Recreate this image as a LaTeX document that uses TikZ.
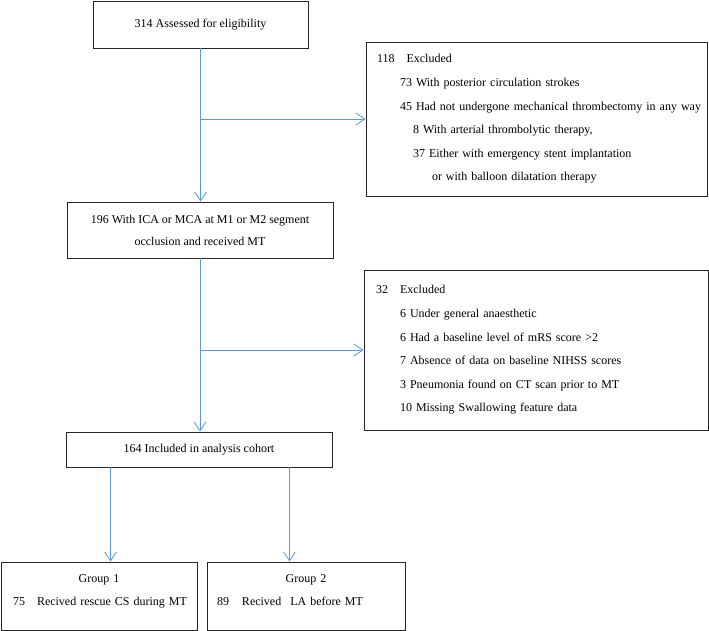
\documentclass[tikz,border=0pt]{standalone}
\usepackage{fontspec}
\setmainfont{Liberation Serif}
\usetikzlibrary{arrows.meta}
\definecolor{flowblue}{RGB}{91,155,213}

\begin{document}
\begin{tikzpicture}[
        x=1pt, y=-1pt, % one unit = one pixel of the layout, y grows downwards
        box/.style = {draw=black!85, line width=0.9pt, inner sep=0pt, font=\fontsize{12}{23.6}\selectfont}, % plain boxes
        excl/.style = {box, align=left, inner xsep=11pt}, % exclusion lists
        grp/.style = {box, align=left, inner xsep=12pt, minimum width=196pt, minimum height=68pt, font=\fontsize{12}{23}\selectfont},
        link/.style = {draw=flowblue, line width=0.8pt, -{Straight Barb[length=9pt, width=12pt]}},
    ]
    \useasboundingbox (0,0) rectangle (709,631);

    \node[box, minimum width=215pt, minimum height=47pt] (assess) at (200.5,24.5) {314 Assessed for eligibility};
    \node[box, align=center, minimum width=266pt, minimum height=56pt, font=\fontsize{12}{22}\selectfont] (icamca) at (200,230)
        {196 With ICA or MCA at M1 or M2 segment\\ occlusion and received MT};
    \node[box, minimum width=266pt, minimum height=35pt] (cohort) at (199,449.5) {164 Included in analysis cohort};

    \node[excl, text width=319pt, minimum height=154pt] (excl1) at (536.5,119) {118\hspace{12pt}Excluded\\
        \hspace*{23pt}\mbox{73 With posterior circulation strokes}\\
        \hspace*{23pt}\mbox{45 Had not undergone mechanical thrombectomy in any way}\\
        \hspace*{36pt}\mbox{8 With arterial thrombolytic therapy,}\\
        \hspace*{36pt}\mbox{37 Either with emergency stent implantation}\\
        \hspace*{55pt}\mbox{or with balloon dilatation therapy}};
    \node[excl, inner xsep=12pt, text width=320pt, minimum height=160pt] (excl2) at (536,350) {32\hspace{12pt}Excluded\\
        \hspace*{24pt}6 Under general anaesthetic\\
        \hspace*{24pt}6 Had a baseline level of mRS score >2\\
        \hspace*{24pt}7 Absence of data on baseline NIHSS scores\\
        \hspace*{24pt}3 Pneumonia found on CT scan prior to MT\\
        \hspace*{24pt}10 Missing Swallowing feature data};

    \node[grp, text width=172pt] (grp1) at (99,596)
        {\makebox[172pt]{Group 1}\\ \mbox{75\hspace{12pt}Recived rescue CS during MT}\rule[-12pt]{0pt}{12pt}};
    \node[grp, inner xsep=10pt, text width=178pt, minimum width=198pt] (grp2) at (306,596)
        {\makebox[178pt]{Group 2}\\ \mbox{89\hspace{13pt}Recived\hspace{9pt}LA before MT}\rule[-12pt]{0pt}{12pt}};

    % flow
    \coordinate (j1) at (assess.south |- excl1.west);
    \coordinate (j2) at (icamca.south |- excl2.west);
    \coordinate (s1) at ([xshift=45pt]cohort.south west);
    \coordinate (s2) at ([xshift=-43pt]cohort.south east);
    \draw[link] (assess.south) -- (assess.south |- icamca.north);
    \draw[link] (j1) -- (excl1.west);
    \draw[link] (icamca.south) -- (icamca.south |- cohort.north);
    \draw[link] (j2) -- (excl2.west);
    \draw[link] (s1) -- (s1 |- grp1.north);
    \draw[link] (s2) -- (s2 |- grp2.north);
\end{tikzpicture}
\end{document}
